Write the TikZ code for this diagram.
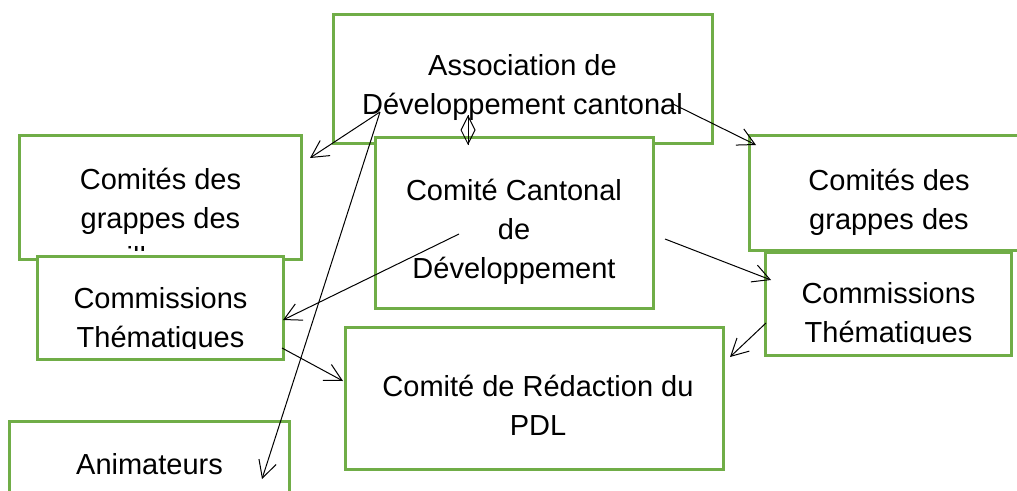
\documentclass[tikz,border=0pt]{standalone}
\usepackage{fontspec}
\setmainfont{Liberation Sans}
\usepackage{xcolor}
\usetikzlibrary{arrows.meta}
\definecolor{boxgreen}{RGB}{112,173,71}

\begin{document}
\begin{tikzpicture}[
        x=0.02cm, y=-0.02cm,
        box/.style={rectangle, draw=boxgreen, fill=white, line width=0.06cm, inner sep=0pt},
        txt/.style={align=center, inner sep=0pt, anchor=north, font=\fontsize{16.5pt}{22.1pt}\selectfont},
        arrow/.style={line width=0.02cm, -{Straight Barb[length=0.34cm, width=0.36cm]}}
    ]
        \clip (0,0) rectangle (1017,490);
        % boxes and their texts
        \node[box, minimum width=7.6cm, minimum height=2.6cm] (assoc) at (523,79) {};
        \node[txt] (assoc-t) at (522.5,48) {\strut Association de\\\strut Développement cantonal};
        \node[box, minimum width=5.58cm, minimum height=3.44cm] (cc) at (514.5,223) {};
        \node[txt] (cc-t) at (514,173) {\strut Comité Cantonal\\\strut de\\\strut Développement};
        \node[box, minimum width=5.66cm, minimum height=2.5cm] (lcom) at (160.5,197.5) {};
        \begin{scope}
            \clip (19,135) rectangle (302,250);
            \node[txt] (lcom-t) at (160.5,162) {\strut Comités des\\\strut grappes des\\\strut villages};
        \end{scope}
        \node[box, minimum width=4.94cm, minimum height=2.08cm] (lthem) at (160.5,308) {};
        \begin{scope}
            \clip (37,256) rectangle (284,348);
            \node[txt] (lthem-t) at (160.5,281) {\strut Commissions\\\strut Thématiques};
        \end{scope}
        \node[box, minimum width=5.6cm, minimum height=2.32cm] (rcom) at (889,193) {};
        \begin{scope}
            \clip (749,135) rectangle (1029,243);
            \node[txt] (rcom-t) at (889,163) {\strut Comités des\\\strut grappes des\\\strut villages};
        \end{scope}
        \node[box, minimum width=4.94cm, minimum height=2.08cm] (rthem) at (888.5,304) {};
        \begin{scope}
            \clip (765,252) rectangle (1012,343);
            \node[txt] (rthem-t) at (888.5,276) {\strut Commissions\\\strut Thématiques};
        \end{scope}
        \node[box, minimum width=7.58cm, minimum height=2.86cm] (redac) at (534.5,398.5) {};
        \node[txt] (redac-t) at (538,369) {\strut Comité de Rédaction du\\\strut PDL};
        \node[box, minimum width=5.62cm, minimum height=2.5cm] (anim) at (149.5,483.5) {};
        \node[txt] (anim-t) at (149.5,447) {\strut Animateurs};
        % arrow ends
        \coordinate (assoc-l) at (380,112);
        \coordinate (assoc-r) at (673,104);
        \coordinate (cc-l) at (459,234);
        \coordinate (cc-r) at (665,239);
        \coordinate (lthem-r) at (282,348);
        \coordinate (rthem-l) at (766,323);
        \coordinate (lcom-in) at (310,158);
        \coordinate (anim-in) at (262,479);
        \coordinate (rcom-in) at (756,145);
        \coordinate (lthem-in) at (283,320);
        \coordinate (rthem-in) at (771,280);
        \coordinate (redac-in) at (343,381);
        \coordinate (redac-r) at (730,357);
        \coordinate (dtop) at (468,115);
        \coordinate (dbot) at (468,145);
        % arrows
        \draw[arrow] (assoc-l) -- (lcom-in);
        \draw[arrow] (assoc-l) -- (anim-in);
        \draw[arrow] (assoc-r) -- (rcom-in);
        \draw[arrow] (cc-l) -- (lthem-in);
        \draw[arrow] (cc-r) -- (rthem-in);
        \draw[arrow] (lthem-r) -- (redac-in);
        \draw[arrow] (rthem-l) -- (redac-r);
        \draw[line width=0.02cm] (dtop) -- (dbot);
        \draw[line width=0.02cm, -{Diamond[open, length=0.6cm, width=0.3cm]}] (dtop) -- (dbot);
    \end{tikzpicture}
\end{document}
